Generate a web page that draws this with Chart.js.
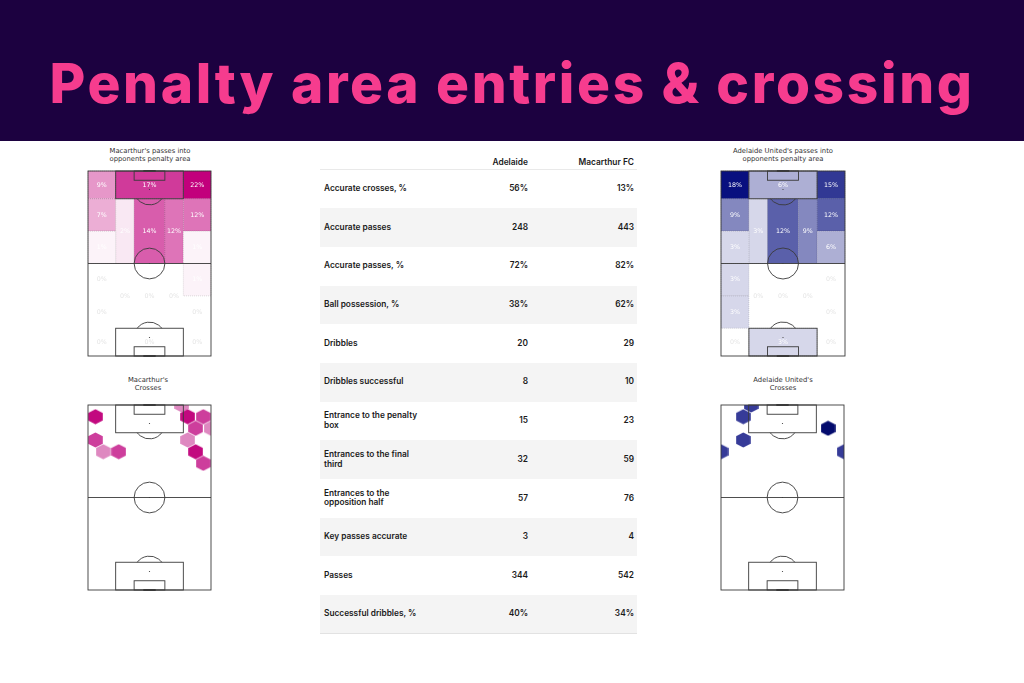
<!DOCTYPE html>
<html>
<head>
<meta charset="utf-8">
<script src="https://cdn.jsdelivr.net/npm/chart.js@4.4.1/dist/chart.umd.min.js"></script>
<style>
  body { margin: 0; width: 1024px; height: 683px; overflow: hidden; background: #fff; position: relative; font-family: Inter, "Noto Sans", sans-serif; }
  #band { position: absolute; left: 0; top: 0; width: 1024px; height: 141px; background: #1c0140; }
  #title { position: absolute; left: 0; top: 56px; width: 1024px; text-align: center; color: #f63c8e; font: 800 55px/55px Inter, sans-serif; white-space: nowrap; }
  .ptitle { position: absolute; width: 140px; text-align: center; font: 6.8px/7.6px "DejaVu Sans", sans-serif; color: #333; }
  canvas { position: absolute; }
  .th { position: absolute; top: 158px; font: 600 8.4px/9px Inter, sans-serif; color: #1b1b1b; }
  #stats { position: absolute; left: 320px; top: 169px; width: 317px; border-collapse: collapse; font: 600 8.3px/9.6px Inter, sans-serif; color: #1b1b1b; border-top: 1px solid #e9e9e9; border-bottom: 1px solid #e2e2e2; }
  #stats tr { height: 38.7px; }
  #stats tr:nth-child(even) { background: #f4f4f4; }
  #stats td { padding: 0; vertical-align: middle; }
  #stats td.lab { width: 106px; padding-left: 4px; }
  #stats td.lab div { width: 100px; }
  #stats td.v1 { width: 98px; text-align: right; }
  #stats td.v2 { text-align: right; padding-right: 3px; }
</style>
</head>
<body>
<div id="band"></div>
<div id="title"><span></span></div>

<div class="ptitle" style="left:80px; top:148px">Macarthur's passes into<br>opponents penalty area</div>
<div class="ptitle" style="left:713px; top:148px">Adelaide United's passes into<br>opponents penalty area</div>
<div class="ptitle" style="left:78px; top:377px">Macarthur's<br>Crosses</div>
<div class="ptitle" style="left:713px; top:377px">Adelaide United's<br>Crosses</div>

<canvas id="macHeat"></canvas>
<canvas id="adlHeat"></canvas>
<canvas id="macCross"></canvas>
<canvas id="adlCross"></canvas>

<span class="th" id="th1"></span>
<span class="th" id="th2"></span>
<table id="stats"><tbody></tbody></table>

<script>
const titleText = 'Penalty area entries & crossing';

// pitch is 80 wide, 120 long (statsbomb units), attacking upwards
const wEdges = [0, 18, 30, 50, 62, 80];
const lEdges = [0, 18, 39, 60, 81, 102, 120];
// each zone: [w from, w to, l from, l to] as indexes into the edges above
const zones = [
  [0, 1, 5, 6], [1, 4, 5, 6], [4, 5, 5, 6],
  [0, 1, 4, 5], [4, 5, 4, 5],
  [1, 2, 3, 5], [2, 3, 3, 5], [3, 4, 3, 5],
  [0, 1, 3, 4], [4, 5, 3, 4],
  [0, 1, 2, 3], [4, 5, 2, 3],
  [1, 2, 1, 3], [2, 3, 1, 3], [3, 4, 1, 3],
  [0, 1, 1, 2], [4, 5, 1, 2],
  [0, 1, 0, 1], [1, 4, 0, 1], [4, 5, 0, 1]
];
const macarthurZonePct = [9, 17, 22, 7, 12, 2, 14, 12, 1, 1, 0, 1, 0, 0, 0, 0, 0, 0, 0, 0];
const adelaideZonePct = [18, 6, 15, 9, 12, 3, 12, 9, 3, 6, 3, 0, 0, 0, 0, 3, 0, 0, 3, 0];

// crosses, hexbin centres and counts
const macarthurCrossW = [4.8, 4.8, 9.9, 20.0, 61.0, 64.8, 75.0, 70.0, 80.0, 64.8, 70.0, 75.0];
const macarthurCrossL = [112.4, 97.3, 89.7, 89.7, 120.0, 112.4, 112.4, 104.9, 104.9, 97.3, 89.7, 82.2];
const macarthurCrossN = [3, 2, 1, 2, 1, 3, 2, 2, 1, 1, 3, 2];
const adelaideCrossW = [19.6, 14.5, 14.5, 69.6, 0.0, 80.0];
const adelaideCrossL = [120.0, 112.4, 97.3, 104.9, 89.7, 89.7];
const adelaideCrossN = [1, 1, 1, 2, 1, 1];

const tableTeams = ['Adelaide', 'Macarthur FC'];
const statLabels = ['Accurate crosses, %', 'Accurate passes', 'Accurate passes, %', 'Ball possession, %',
  'Dribbles', 'Dribbles successful', 'Entrance to the penalty box', 'Entrances to the final third',
  'Entrances to the opposition half', 'Key passes accurate', 'Passes', 'Successful dribbles, %'];
const adelaideStats = ['56%', '248', '72%', '38%', '20', '8', '15', '32', '57', '3', '344', '40%'];
const macarthurStats = ['13%', '443', '82%', '62%', '29', '10', '23', '59', '76', '4', '542', '34%'];

// title, stretched to the width of the original
const tspan = document.querySelector('#title span');
tspan.textContent = titleText;
const tw = tspan.getBoundingClientRect().width;
tspan.style.letterSpacing = ((925 - tw) / titleText.length) + 'px';

// table
document.getElementById('th1').textContent = tableTeams[0];
document.getElementById('th2').textContent = tableTeams[1];
document.getElementById('th1').style.right = (1024 - 528) + 'px';
document.getElementById('th2').style.right = (1024 - 634) + 'px';
const tbody = document.querySelector('#stats tbody');
statLabels.forEach((lab, i) => {
  const tr = document.createElement('tr');
  tr.innerHTML = `<td class="lab"><div>${lab}</div></td><td class="v1">${adelaideStats[i]}</td><td class="v2">${macarthurStats[i]}</td>`;
  tbody.appendChild(tr);
});

function shade(hex, t) {
  const n = parseInt(hex.slice(1), 16);
  const r = n >> 16, g = (n >> 8) & 255, b = n & 255;
  const m = c => Math.round(255 + (c - 255) * t);
  return `rgb(${m(r)},${m(g)},${m(b)})`;
}

function drawLines(chart) {
  const { ctx, scales: { x, y } } = chart;
  const px = v => x.getPixelForValue(v), py = v => y.getPixelForValue(v);
  const unit = Math.abs(px(1) - px(0));
  const rect = (w0, w1, l0, l1) => ctx.strokeRect(px(w0), py(l1), px(w1) - px(w0), py(l0) - py(l1));
  ctx.save();
  ctx.strokeStyle = '#3a3a3a';
  ctx.fillStyle = '#3a3a3a';
  ctx.lineWidth = 0.9;
  rect(0, 80, 0, 120);
  ctx.beginPath(); ctx.moveTo(px(0), py(60)); ctx.lineTo(px(80), py(60)); ctx.stroke();
  ctx.beginPath(); ctx.arc(px(40), py(60), 10 * unit, 0, Math.PI * 2); ctx.stroke();
  rect(18, 62, 0, 18); rect(18, 62, 102, 120);
  rect(30, 50, 0, 6); rect(30, 50, 114, 120);
  const a = Math.acos(6 / 10);
  ctx.beginPath(); ctx.arc(px(40), py(108), 10 * unit, Math.PI / 2 - a, Math.PI / 2 + a); ctx.stroke();
  ctx.beginPath(); ctx.arc(px(40), py(12), 10 * unit, -Math.PI / 2 - a, -Math.PI / 2 + a); ctx.stroke();
  [12, 60, 108].forEach(l => { ctx.beginPath(); ctx.arc(px(40), py(l), 0.6, 0, Math.PI * 2); ctx.fill(); });
  ctx.lineWidth = 2.2;
  ctx.beginPath();
  ctx.moveTo(px(36), py(120)); ctx.lineTo(px(44), py(120));
  ctx.moveTo(px(36), py(0)); ctx.lineTo(px(44), py(0));
  ctx.stroke();
  ctx.restore();
}

const pitchPlugin = {
  id: 'pitch',
  beforeDatasetsDraw(chart, args, opts) {
    if (!opts.values) return;
    const { ctx, scales: { x, y } } = chart;
    const max = Math.max(...opts.values);
    ctx.save();
    zones.forEach((z, i) => {
      const v = opts.values[i];
      if (!v) return;
      const x0 = x.getPixelForValue(wEdges[z[0]]), x1 = x.getPixelForValue(wEdges[z[1]]);
      const y0 = y.getPixelForValue(lEdges[z[3]]), y1 = y.getPixelForValue(lEdges[z[2]]);
      ctx.fillStyle = shade(opts.color, v / max);
      ctx.fillRect(x0, y0, x1 - x0, y1 - y0);
      ctx.setLineDash([1, 1]);
      ctx.lineWidth = 0.7;
      ctx.strokeStyle = 'rgba(0,0,0,0.2)';
      ctx.strokeRect(x0, y0, x1 - x0, y1 - y0);
    });
    ctx.restore();
  },
  afterDatasetsDraw(chart, args, opts) {
    drawLines(chart);
    if (!opts.values) return;
    const { ctx, scales: { x, y } } = chart;
    ctx.save();
    ctx.font = '6.3px "DejaVu Sans"';
    ctx.textAlign = 'center';
    ctx.textBaseline = 'middle';
    zones.forEach((z, i) => {
      const v = opts.values[i];
      const cx = x.getPixelForValue((wEdges[z[0]] + wEdges[z[1]]) / 2);
      const cy = y.getPixelForValue((lEdges[z[2]] + lEdges[z[3]]) / 2);
      ctx.fillStyle = v ? '#ffffff' : '#e4e4e4';
      ctx.fillText(v + '%', cx, cy);
    });
    ctx.restore();
  }
};

function hexImage(color) {
  const c = document.createElement('canvas');
  const w = 14.6, h = 15.2;
  c.width = 15; c.height = 16;
  const g = c.getContext('2d');
  const ox = (15 - w) / 2, oy = (16 - h) / 2;
  g.fillStyle = color;
  g.beginPath();
  g.moveTo(ox + w / 2, oy);
  g.lineTo(ox + w, oy + h / 4);
  g.lineTo(ox + w, oy + 3 * h / 4);
  g.lineTo(ox + w / 2, oy + h);
  g.lineTo(ox, oy + 3 * h / 4);
  g.lineTo(ox, oy + h / 4);
  g.closePath();
  g.fill();
  return c;
}

const pinkHexes = ['#de88c0', '#cd3e9c', '#c2097f'].map(hexImage);
const blueHexes = ['#363b98', '#030b6d'].map(hexImage);

function pitchChart(id, left, top, w, h, datasets, heat) {
  const pad = 2;
  const cv = document.getElementById(id);
  cv.width = w + 2 * pad; cv.height = h + 2 * pad;
  cv.style.left = (left - pad) + 'px'; cv.style.top = (top - pad) + 'px';
  cv.style.width = cv.width + 'px'; cv.style.height = cv.height + 'px';
  return new Chart(cv, {
    type: 'scatter',
    data: { datasets },
    options: {
      responsive: false,
      animation: false,
      events: [],
      layout: { padding: pad, autoPadding: false },
      scales: {
        x: { type: 'linear', min: 0, max: 80, display: false },
        y: { type: 'linear', min: 0, max: 120, display: false }
      },
      plugins: { legend: { display: false }, tooltip: { enabled: false }, pitch: heat || {} }
    },
    plugins: [pitchPlugin]
  });
}

function crossSet(ws, ls, ns, imgs) {
  return [{
    data: ws.map((w, i) => ({ x: w, y: ls[i] })),
    pointStyle: ns.map(n => imgs[n - 1]),
    pointRadius: 7.5,
    clip: 0
  }];
}

pitchChart('macHeat', 88, 171, 123, 185, [{ data: [] }], { values: macarthurZonePct, color: '#c2007c' });
pitchChart('adlHeat', 721, 171, 124, 185, [{ data: [] }], { values: adelaideZonePct, color: '#08107f' });
pitchChart('macCross', 88, 405, 123, 185, crossSet(macarthurCrossW, macarthurCrossL, macarthurCrossN, pinkHexes));
pitchChart('adlCross', 721, 405, 123, 185, crossSet(adelaideCrossW, adelaideCrossL, adelaideCrossN, blueHexes));
</script>
</body>
</html>
